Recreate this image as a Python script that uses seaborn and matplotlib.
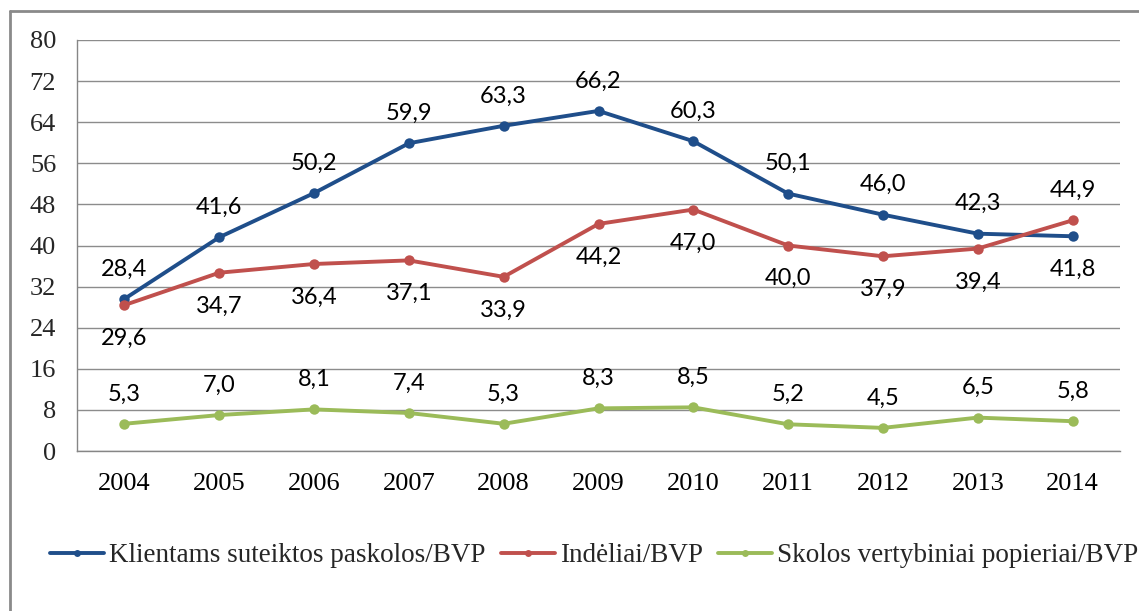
import matplotlib
matplotlib.use("Agg")
import matplotlib.pyplot as plt
import seaborn as sns
import pandas as pd
from matplotlib.lines import Line2D
from matplotlib.ticker import FixedLocator, NullFormatter

years = [2004, 2005, 2006, 2007, 2008, 2009, 2010, 2011, 2012, 2013, 2014]
loans = [29.6, 41.6, 50.2, 59.9, 63.3, 66.2, 60.3, 50.1, 46.0, 42.3, 41.8]
deposits = [28.4, 34.7, 36.4, 37.1, 33.9, 44.2, 47.0, 40.0, 37.9, 39.4, 44.9]
securities = [5.3, 7.0, 8.1, 7.4, 5.3, 8.3, 8.5, 5.2, 4.5, 6.5, 5.8]

loans_labels = ["28,4", "41,6", "50,2", "59,9", "63,3", "66,2", "60,3", "50,1", "46,0", "42,3", "41,8"]
deposits_labels = ["29,6", "34,7", "36,4", "37,1", "33,9", "44,2", "47,0", "40,0", "37,9", "39,4", "44,9"]
securities_labels = ["5,3", "7,0", "8,1", "7,4", "5,3", "8,3", "8,5", "5,2", "4,5", "6,5", "5,8"]

series_names = ["Klientams suteiktos paskolos/BVP", "Indėliai/BVP", "Skolos vertybiniai popieriai/BVP"]
colors = ["#1F4E8A", "#C0504D", "#9BBB59"]
y_ticks = [0, 8, 16, 24, 32, 40, 48, 56, 64, 72, 80]

df = pd.DataFrame({
    "year": years * 3,
    "value": loans + deposits + securities,
    "series": [series_names[0]] * 11 + [series_names[1]] * 11 + [series_names[2]] * 11,
})

sns.set_style("white")
plt.rcParams["font.family"] = ["Liberation Serif", "DejaVu Serif"]

fig = plt.figure(figsize=(11.39, 6.11), dpi=100)
ax = fig.add_axes([77 / 1139, 1 - 451 / 611, (1120 - 77) / 1139, (451 - 40) / 611])

sns.lineplot(data=df, x="year", y="value", hue="series", hue_order=series_names,
             palette=colors, marker="o", markersize=7.5, markeredgewidth=0,
             linewidth=2.8, ax=ax, legend=False, zorder=3)

ax.set_xlim(2003.5, 2014.5)
ax.set_ylim(0, 80)
ax.set_yticks(y_ticks)
ax.set_xticks(years)
ax.set_xticklabels([str(y) for y in years])
ax.xaxis.set_minor_locator(FixedLocator([y + 0.5 for y in range(2003, 2015)]))
ax.xaxis.set_minor_formatter(NullFormatter())
ax.tick_params(axis="x", which="major", length=0, pad=16, labelsize=19, colors="#000000")
ax.tick_params(axis="x", which="minor", length=8, width=1, color="#868686", direction="out")
ax.tick_params(axis="y", which="major", length=8, width=1, color="#868686", direction="out",
               pad=7, labelsize=19)
ax.grid(axis="y", color="#8C8C8C", linewidth=1)
ax.set_axisbelow(True)
for s in ["top", "right"]:
    ax.spines[s].set_visible(False)
for s in ["left", "bottom"]:
    ax.spines[s].set_color("#868686")
    ax.spines[s].set_linewidth(1)
ax.set_xlabel("")
ax.set_ylabel("")

def annotate(vals, labels, offsets):
    for x, v, lab, off in zip(years, vals, labels, offsets):
        ax.annotate(lab, (x, v), xytext=(0, off), textcoords="offset points",
                    ha="center", va="center", fontsize=17, color="#000000", zorder=5,
                    family=["Lato", "DejaVu Sans"])

up, down = 21.5, -24
annotate(loans, loans_labels, [up] * 10 + [down])
annotate(deposits, deposits_labels, [down] * 10 + [up])
annotate(securities, securities_labels, [up] * 11)

handles = [Line2D([0], [0], color=c, lw=2.8, marker="o", markersize=5, markeredgewidth=0)
           for c in colors]
fig.legend(handles, series_names, loc="center", bbox_to_anchor=(0.5215, 1 - 556 / 611),
           ncol=3, frameon=False, fontsize=19.5, handlelength=2.0, handletextpad=0.18,
           columnspacing=0.55, borderpad=0, borderaxespad=0)

# outer chart border (top and left visible)
fig.add_artist(Line2D([10 / 1139, 1.0], [1 - 11 / 611, 1 - 11 / 611], color="#8A8A8A", lw=2,
                      transform=fig.transFigure))
fig.add_artist(Line2D([10 / 1139, 10 / 1139], [1 - 11 / 611, 0.0], color="#8A8A8A", lw=2,
                      transform=fig.transFigure))

fig.savefig("out.png", dpi=100)
